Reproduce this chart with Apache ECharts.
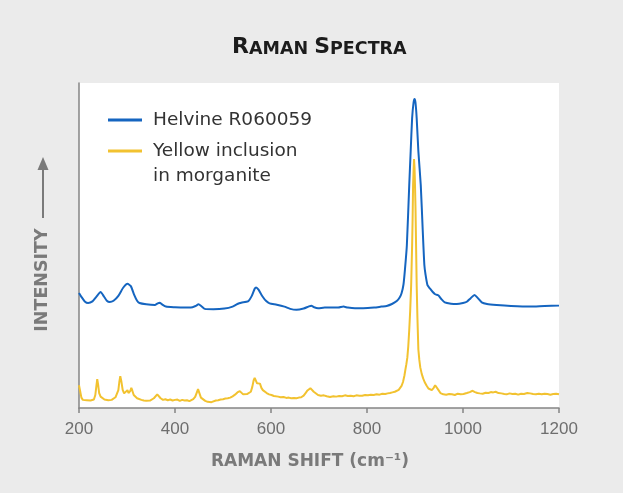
<!DOCTYPE html>
<html>
<head>
<meta charset="utf-8">
<script src="https://cdn.jsdelivr.net/npm/echarts@6/dist/echarts.min.js"></script>
<style>
  html, body { margin: 0; padding: 0; background: #ebebeb; }
  #chart { width: 623px; height: 493px; }
</style>
</head>
<body>
<div id="chart"></div>
<script>
// Raman shift axis ticks (cm^-1)
const shiftTicks = [200, 400, 600, 800, 1000, 1200];

const helvineName = 'Helvine R060059';
const inclusionName = 'Yellow inclusion';
const inclusionNameLine2 = 'in morganite';

// Helvine reference spectrum: [Raman shift, relative intensity]
const helvineSpectrum = [
  [200,35.4],[205,34.2],[212,32.8],[219,32.3],[228,32.8],[236,34.2],[245,35.7],[252,34.3],
  [258,33.0],[264,32.6],[272,33.0],[282,34.5],[292,37.0],[301,38.2],[308,37.5],[315,34.8],
  [321,33.0],[326,32.3],[340,31.9],[358,31.7],[364,32.2],[368,32.4],[373,31.9],[381,31.2],
  [400,31.0],[420,30.9],[433,30.9],[443,31.4],[449,31.9],[455,31.3],[462,30.5],[480,30.4],
  [503,30.6],[520,31.2],[530,32.0],[538,32.4],[552,32.8],[560,34.5],[566,36.7],[569,37.1],
  [574,36.4],[582,34.4],[590,32.9],[597,32.2],[612,31.8],[628,31.2],[640,30.5],[653,30.2],
  [668,30.6],[678,31.2],[684,31.5],[690,31.0],[698,30.7],[712,30.9],[723,30.9],[740,30.9],
  [751,31.2],[760,30.9],[775,30.7],[792,30.7],[815,30.9],[830,31.2],[841,31.4],[852,32.0],
  [862,32.9],[868,34.0],[872,35.3],[876,38.0],[879,42.5],[883,50.0],[888,68.6],[891,79.0],
  [894,89.2],[897,94.0],[899,95.1],[901,94.0],[903.5,89.2],[907,79.0],[912,68.6],[916,55.0],
  [919.5,44.0],[922,41.0],[926,37.8],[931,36.8],[937,35.7],[942,35.0],[949,34.6],[955,33.5],
  [962,32.5],[975,32.1],[987,32.0],[1000,32.3],[1008,32.7],[1016,33.8],[1024,34.8],[1031,33.8],
  [1039,32.5],[1050,32.0],[1070,31.7],[1100,31.4],[1140,31.2],[1170,31.4],[1200,31.5]
];

// Yellow inclusion spectrum: [Raman shift, relative intensity]
const inclusionSpectrum = [
  [200,7.0],[202,5.5],[205,3.2],[208,2.5],[212,2.1],[216,2.4],[220,2.0],[224,2.3],[228,2.2],
  [231,2.6],[234,4.0],[236,6.5],[238,8.9],[240,7.0],[242,4.6],[245,3.5],[249,2.9],[253,2.6],
  [257,2.8],[261,2.4],[265,2.6],[268,2.5],[272,2.9],[276,3.3],[279,3.8],[282,5.5],[284,8.0],
  [286,9.8],[288,8.4],[291,5.6],[294,4.5],[297,4.9],[301,5.5],[303,4.6],[305,4.4],[307,5.3],
  [309,6.2],[311,5.4],[314,4.0],[317,3.4],[321,3.0],[325,2.7],[330,2.5],[335,2.3],[340,2.2],
  [344,2.4],[348,2.3],[352,2.6],[356,3.0],[359,3.6],[363,4.2],[366,3.7],[370,3.0],[375,2.5],
  [380,2.7],[385,2.4],[390,2.6],[395,2.3],[400,2.5],[405,2.6],[410,2.2],[415,2.5],[420,2.3],
  [425,2.4],[430,2.1],[434,2.3],[438,2.7],[442,3.4],[445,4.6],[448,5.8],[451,4.5],[454,3.2],
  [458,2.6],[463,2.2],[468,1.9],[472,2.1],[476,1.8],[480,2.0],[485,2.3],[490,2.4],[495,2.6],
  [500,2.7],[505,2.9],[510,3.0],[515,3.2],[520,3.6],[525,4.1],[530,4.8],[533,5.0],[535,5.2],
  [538,4.7],[542,4.2],[546,4.0],[550,4.3],[554,4.5],[558,5.0],[561,6.5],[564,8.6],[566,9.3],
  [568,8.7],[571,7.6],[573,7.9],[575,8.1],[577,7.5],[580,6.2],[583,5.5],[587,5.0],[591,4.6],
  [596,4.2],[601,4.0],[606,3.7],[610,3.8],[615,3.5],[620,3.3],[626,3.4],[632,3.1],[637,3.2],
  [642,3.0],[648,3.1],[653,3.0],[658,3.2],[663,3.3],[668,3.8],[672,4.6],[676,5.4],[679,5.9],
  [682,6.1],[685,5.8],[689,5.0],[693,4.4],[698,4.0],[704,3.8],[710,3.9],[716,3.6],[723,3.4],
  [730,3.6],[736,3.5],[742,3.7],[748,3.6],[754,3.9],[760,3.7],[766,3.8],[772,3.6],[778,3.9],
  [784,3.8],[790,3.8],[796,4.0],[802,3.9],[808,4.1],[814,4.0],[820,4.2],[826,4.1],[832,4.4],
  [838,4.3],[843,4.5],[848,4.6],[853,4.8],[858,5.0],[862,5.3],[866,5.6],[869,5.9],[872,6.8],
  [875,8.0],[878,10.0],[880,11.8],[882,13.5],[884,15.5],[886,19.0],[888,24.0],[890,30.0],
  [892,37.8],[894,50.0],[895,58.0],[896,68.6],[897,73.0],[898,76.6],[899,74.0],[900,68.6],
  [901,62.0],[903.5,37.8],[905,28.0],[907,18.0],[909,14.8],[911,12.5],[914,10.5],[917,9.1],
  [920,8.0],[924,6.9],[928,6.0],[931,5.5],[935,5.5],[939,6.2],[942,7.0],[944,7.3],[946,6.8],
  [949,5.5],[953,4.6],[959,4.2],[965,4.1],[971,4.3],[977,4.2],[983,4.0],[989,4.4],[995,4.2],
  [1001,4.3],[1008,4.6],[1014,4.9],[1020,5.3],[1025,4.9],[1030,4.6],[1035,4.5],[1041,4.4],
  [1047,4.7],[1053,4.6],[1058,4.9],[1063,4.8],[1068,5.0],[1074,4.6],[1080,4.5],[1086,4.3],
  [1091,4.2],[1097,4.5],[1103,4.3],[1109,4.4],[1115,4.1],[1121,4.4],[1127,4.3],[1134,4.6],
  [1140,4.5],[1146,4.3],[1152,4.2],[1158,4.4],[1164,4.2],[1170,4.4],[1176,4.3],[1182,4.1],
  [1188,4.3],[1194,4.4],[1200,4.2]
];

const blue = '#1565c0';
const yellow = '#f2c230';
const axisGrey = '#7a7a7a';
const textFont = 'DejaVu Sans';

const chart = echarts.init(document.getElementById('chart'), null, { renderer: 'canvas' });

chart.setOption({
  backgroundColor: '#ebebeb',
  animation: false,
  title: {
    text: '{b|R}{s|AMAN }{b|S}{s|PECTRA}',
    left: 227,
    top: 29,
    textStyle: {
      rich: {
        b: { fontFamily: textFont, fontWeight: 'bold', fontSize: 22, color: '#1c1c1c', verticalAlign: 'bottom', lineHeight: 24 },
        s: { fontFamily: textFont, fontWeight: 'bold', fontSize: 17.5, color: '#1c1c1c', verticalAlign: 'bottom', lineHeight: 24 }
      }
    }
  },
  grid: {
    left: 79, right: 64, top: 83, bottom: 85,
    show: true, backgroundColor: '#ffffff', borderWidth: 0
  },
  legend: {
    orient: 'vertical',
    left: 103,
    top: 104,
    itemWidth: 34,
    itemHeight: 3,
    itemGap: 9,
    icon: 'rect',
    textStyle: { fontFamily: textFont, fontSize: 18.5, color: '#333333', lineHeight: 22, padding: [0, 0, 0, 6] },
    data: [helvineName, inclusionName]
  },
  xAxis: {
    type: 'value',
    min: shiftTicks[0],
    max: shiftTicks[shiftTicks.length - 1],
    interval: 200,
    name: 'RAMAN SHIFT (cm⁻¹)',
    nameLocation: 'middle',
    nameGap: 45,
    nameTextStyle: { fontFamily: textFont, fontWeight: 'bold', fontSize: 17, color: axisGrey, padding: [0, 18, 0, 0] },
    axisLine: { show: true, lineStyle: { color: '#858585', width: 1.5 } },
    axisTick: { show: true, length: 5, lineStyle: { color: '#858585', width: 1.5 } },
    axisLabel: { margin: 13, fontFamily: 'Liberation Sans', fontSize: 17, color: '#6e6e6e', formatter: v => String(v) },
    splitLine: { show: false }
  },
  yAxis: {
    type: 'value',
    min: 0,
    max: 100,
    axisLine: { show: true, lineStyle: { color: '#858585', width: 1.5 } },
    axisTick: { show: false },
    axisLabel: { show: false },
    splitLine: { show: false }
  },
  graphic: [
    {
      type: 'text',
      x: 153, y: 176,
      style: {
        text: inclusionNameLine2,
        fontFamily: textFont, fontSize: 18.5,
        fill: '#333333', align: 'left', verticalAlign: 'middle'
      }
    },
    {
      type: 'text',
      x: 42, y: 280,
      rotation: Math.PI / 2,
      style: {
        text: 'INTENSITY',
        fontFamily: textFont, fontWeight: 'bold', fontSize: 17.5,
        fill: axisGrey, align: 'center', verticalAlign: 'middle'
      }
    },
    {
      type: 'line',
      shape: { x1: 43, y1: 218, x2: 43, y2: 168 },
      style: { stroke: axisGrey, lineWidth: 2 }
    },
    {
      type: 'polygon',
      shape: { points: [[37.5, 170], [48.5, 170], [43, 157]] },
      style: { fill: axisGrey }
    }
  ],
  series: [
    {
      name: helvineName,
      type: 'line',
      data: helvineSpectrum,
      showSymbol: false,
      smooth: 0.2,
      color: blue,
      lineStyle: { color: blue, width: 2 }
    },
    {
      name: inclusionName,
      type: 'line',
      data: inclusionSpectrum,
      showSymbol: false,
      color: yellow,
      lineStyle: { color: yellow, width: 2 }
    }
  ]
});
</script>
</body>
</html>
